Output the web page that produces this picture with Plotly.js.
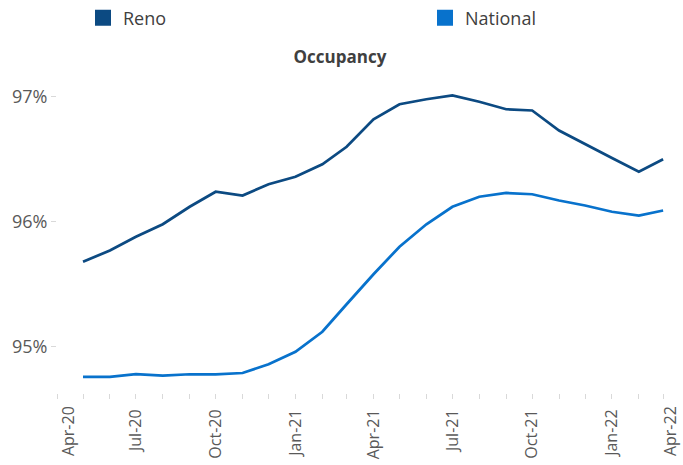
<!DOCTYPE html>
<html>
<head>
<meta charset="utf-8">
<script src="https://cdn.plot.ly/plotly-3.0.1.min.js"></script>
<style>
html, body { margin: 0; padding: 0; overflow: hidden; background: #fff; }
#chart { width: 700px; height: 465px; }
</style>
</head>
<body>
<div id="chart"></div>
<script>
// ---- data ----
const months = [
  '2020-05-01','2020-06-01','2020-07-01','2020-08-01','2020-09-01','2020-10-01','2020-11-01','2020-12-01',
  '2021-01-01','2021-02-01','2021-03-01','2021-04-01','2021-05-01','2021-06-01','2021-07-01','2021-08-01',
  '2021-09-01','2021-10-01','2021-11-01','2021-12-01','2022-01-01','2022-02-01','2022-03-01'
];
const reno = [95.68, 95.77, 95.88, 95.98, 96.12, 96.24, 96.21, 96.30,
              96.36, 96.46, 96.60, 96.82, 96.94, 96.98, 97.01, 96.96,
              96.90, 96.89, 96.73, 96.62, 96.51, 96.40, 96.50];
const national = [94.76, 94.76, 94.78, 94.77, 94.78, 94.78, 94.79, 94.86,
                  94.96, 95.12, 95.34, 95.58, 95.80, 95.98, 96.12, 96.20,
                  96.23, 96.22, 96.17, 96.13, 96.08, 96.05, 96.09];
const seriesNames = ['Reno', 'National'];
const xTickVals = ['2020-07-01','2020-10-01','2021-01-01','2021-04-01','2021-07-01','2021-10-01','2022-01-01'];
const xTickText = ['Jul-20','Oct-20','Jan-21','Apr-21','Jul-21','Oct-21','Jan-22'];
const xFirstVal = ['2020-04-01'], xFirstText = ['Apr-20'];
const xLastVal = ['2022-04-01'], xLastText = ['Apr-22'];
const yTickVals = [95, 96, 97];
const yTickText = ['95%', '96%', '97%'];

// ---- styles ----
const colors = ['#0C4A82', '#0872CC'];
const FONT = 'Open Sans, sans-serif';
const xRange = ['2020-04-01', '2022-04-01'];
const tickFontX = {family: FONT, size: 16, color: '#595959'};

const traces = [
  {x: months, y: reno, type: 'scatter', mode: 'lines', name: seriesNames[0],
   line: {color: colors[0], width: 2.75}, showlegend: false},
  {x: months, y: national, type: 'scatter', mode: 'lines', name: seriesNames[1],
   line: {color: colors[1], width: 2.75}, showlegend: false},
  // legend swatches
  {x: [null], y: [null], type: 'scatter', mode: 'markers', name: seriesNames[0],
   marker: {symbol: 'square', size: 16, color: colors[0]}, showlegend: true, legend: 'legend'},
  {x: [null], y: [null], type: 'scatter', mode: 'markers', name: seriesNames[1],
   marker: {symbol: 'square', size: 16, color: colors[1]}, showlegend: true, legend: 'legend2'},
  // carriers for the edge tick-label axes
  {x: [null], y: [null], type: 'scatter', mode: 'lines', xaxis: 'x2', yaxis: 'y', showlegend: false},
  {x: [null], y: [null], type: 'scatter', mode: 'lines', xaxis: 'x3', yaxis: 'y', showlegend: false}
];

const extraAxis = (vals, text, shift) => ({
  type: 'date', range: xRange, autorange: false, overlaying: 'x', anchor: 'y', side: 'bottom',
  tickvals: vals, ticktext: text, tickangle: -90, ticks: '', showgrid: false,
  zeroline: false, showline: false, tickfont: tickFontX, ticklabelshift: shift,
  ticklabelstandoff: 9, automargin: false
});

const legendBase = {
  orientation: 'h', xanchor: 'left', xref: 'container', yref: 'container',
  y: 1 - 18 / 465, yanchor: 'middle',
  font: {family: FONT, size: 18, color: '#404040'},
  bgcolor: 'rgba(0,0,0,0)', itemclick: false
};

const layout = {
  width: 700, height: 465,
  margin: {l: 57, r: 10, t: 75, b: 72},
  paper_bgcolor: '#ffffff', plot_bgcolor: '#ffffff',
  title: {
    text: '<b>Occupancy</b>',
    font: {family: FONT, size: 17, color: '#404040'},
    xref: 'container', x: 340 / 700, xanchor: 'center',
    yref: 'container', y: 1 - 57 / 465, yanchor: 'middle'
  },
  showlegend: true,
  legend: Object.assign({}, legendBase, {x: 83 / 700}),
  legend2: Object.assign({}, legendBase, {x: 425 / 700}),
  xaxis: {
    type: 'date', range: xRange, autorange: false,
    tickvals: xTickVals, ticktext: xTickText, tickangle: -90,
    ticks: 'outside', ticklen: 5, tickcolor: '#d9d9d9', tickwidth: 1,
    minor: {dtick: 'M1', tick0: '2020-04-01', ticks: 'outside', ticklen: 5, tickcolor: '#d9d9d9', tickwidth: 1, showgrid: false},
    showgrid: false, zeroline: false, showline: false,
    tickfont: tickFontX, ticklabelstandoff: 4, automargin: false
  },
  xaxis2: extraAxis(xFirstVal, xFirstText, 12),
  xaxis3: extraAxis(xLastVal, xLastText, -19),
  yaxis: {
    range: [94.63, 97.174], autorange: false,
    tickvals: yTickVals, ticktext: yTickText,
    ticks: 'outside', ticklen: 5, tickcolor: '#d9d9d9', tickwidth: 1,
    showgrid: false, zeroline: false, showline: false,
    tickfont: {family: FONT, size: 18, color: '#595959'}, automargin: false
  }
};

Plotly.newPlot('chart', traces, layout, {displayModeBar: false, staticPlot: true});
</script>
</body>
</html>
